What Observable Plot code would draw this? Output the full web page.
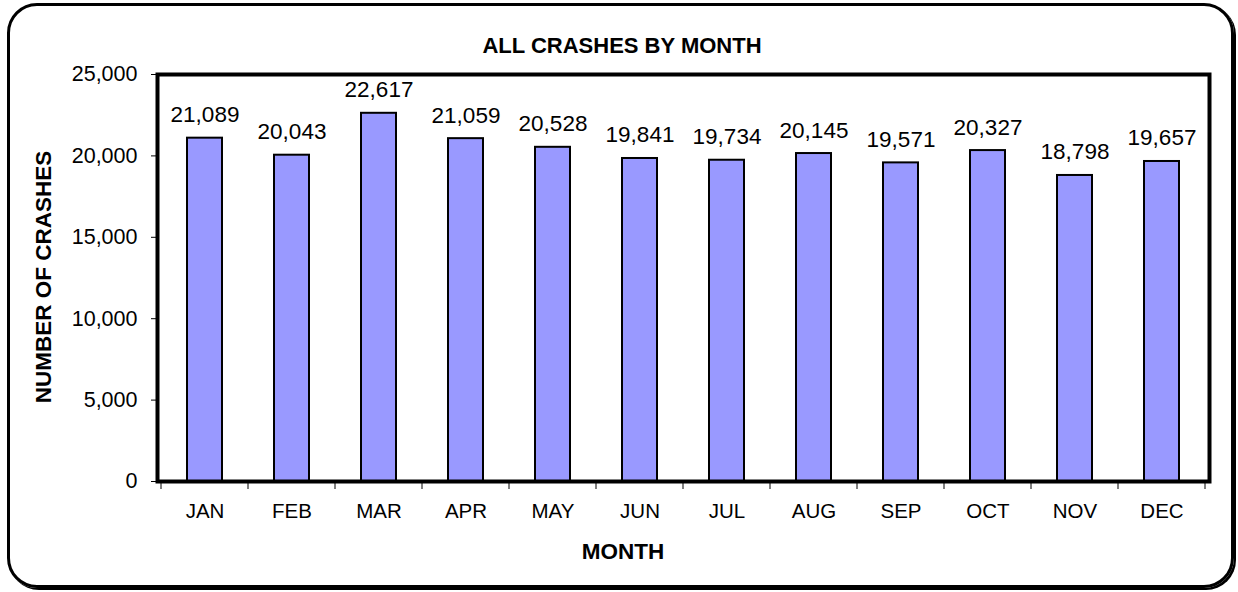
<!DOCTYPE html>
<html><head><meta charset="utf-8">
<script src="https://cdn.jsdelivr.net/npm/d3@7"></script>
<script src="https://cdn.jsdelivr.net/npm/@observablehq/plot@0.6"></script>
<style>
body{margin:0;background:#fff;font-family:"Liberation Sans",Arial,sans-serif;}
#wrap{position:relative;width:1238px;height:592px;overflow:hidden;}
#border{position:absolute;left:7px;top:3px;width:1221px;height:579px;border:3.5px solid #000;border-radius:30px;box-shadow:2px 2px 0 #000;}
#chart{position:absolute;left:0;top:0;}
.t{position:absolute;font-weight:bold;color:#000;white-space:nowrap;line-height:1;}
#title{left:622px;top:35px;transform:translateX(-50%);font-size:22px;}
#xtitle{left:623px;top:541px;transform:translateX(-50%);font-size:22.5px;}
#ytitle{left:44px;top:277px;transform:translate(-50%,-50%) rotate(-90deg);font-size:22.5px;}
</style></head><body>
<div id="wrap"><div id="border"></div><div id="chart"></div>
<div class="t" id="title">ALL CRASHES BY MONTH</div>
<div class="t" id="xtitle">MONTH</div>
<div class="t" id="ytitle">NUMBER OF CRASHES</div>
</div>
<script>
const months = ["JAN","FEB","MAR","APR","MAY","JUN","JUL","AUG","SEP","OCT","NOV","DEC"];
const crashes = [21089,20043,22617,21059,20528,19841,19734,20145,19571,20327,18798,19657];
const yTicks = [0,5000,10000,15000,20000,25000];
const data = months.map((m,i)=>({month:m, value:crashes[i]}));
const fmt = d3.format(",");
const plot = Plot.plot({
  width:1238, height:592,
  marginLeft:157, marginRight:29, marginTop:74, marginBottom:111,
  style:{fontFamily:"'Liberation Sans', Arial, sans-serif", fontSize:"20px", color:"#000", background:"transparent"},
  x:{domain:months, paddingInner:0.6, paddingOuter:0.3, axis:null, label:null},
  y:{domain:[0,25000], axis:null, label:null},
  marks:[
    Plot.barY(data,{x:"month", y:"value", fill:"#9999FF", stroke:"#000", strokeWidth:2}),
    Plot.text(data,{x:"month", y:"value", text:d=>fmt(d.value), lineAnchor:"bottom", dy:-16, fontSize:22.5, fill:"#000"}),
    Plot.axisY({ticks:yTicks, tickFormat:fmt, tickSize:6, tickPadding:14, fontSize:21.5, label:null, stroke:"#000"}),
    Plot.axisX({tickSize:0, tickPadding:22, fontSize:20.5, label:null}),
    Plot.frame({stroke:"#000", strokeWidth:4})
  ]
});
document.getElementById("chart").appendChild(plot);
// boundary ticks on x axis
const xs = plot.scale("x");
const step = xs.step, bw = xs.bandwidth;
const bounds = months.map(m => xs.apply(m) - (step - bw)/2);
bounds.push(xs.apply(months[months.length-1]) + bw + (step - bw)/2);
const y0 = plot.scale("y").apply(0);
d3.select(plot).append("g").selectAll("line").data(bounds).join("line")
  .attr("x1", d=>d).attr("x2", d=>d).attr("y1", y0).attr("y2", y0+8)
  .attr("stroke","#000").attr("stroke-width",1);
</script>
</body></html>
